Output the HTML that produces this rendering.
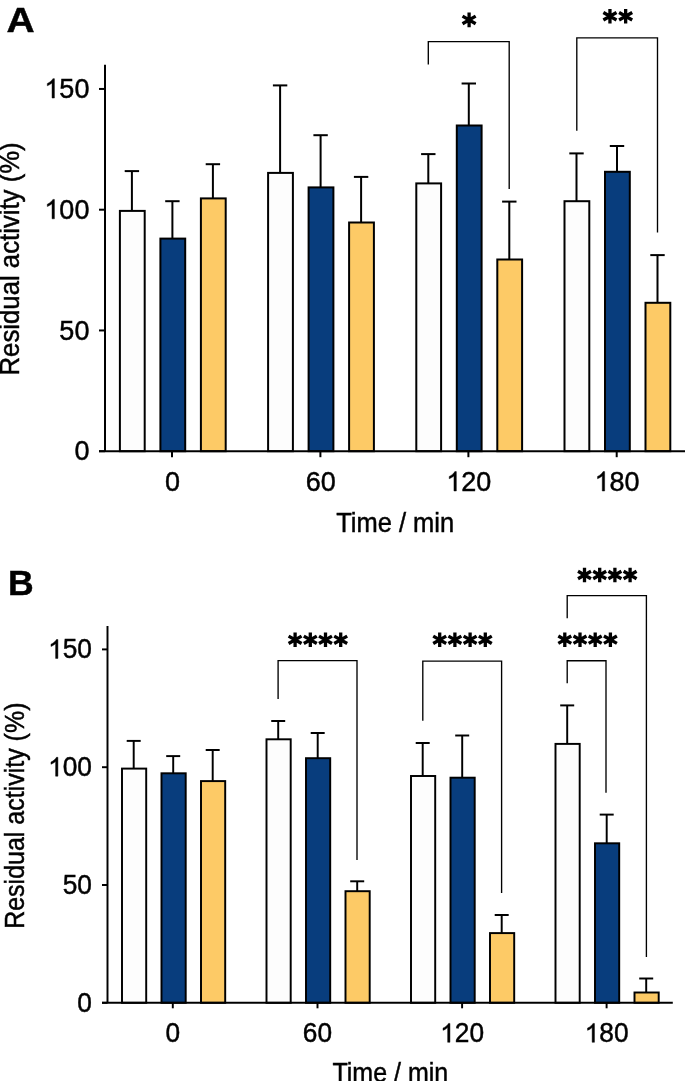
<!DOCTYPE html>
<html><head><meta charset="utf-8"><style>
html,body{margin:0;padding:0;background:#fff;width:685px;height:1081px;}
svg{display:block;}
</style></head><body>
<svg width="685" height="1081" viewBox="0 0 685 1081" font-family='"Liberation Sans", sans-serif'>
<rect width="685" height="1081" fill="#fff"/>
<line x1="131.90" y1="210.90" x2="131.90" y2="171.10" stroke="#000" stroke-width="2"/>
<line x1="124.70" y1="171.10" x2="139.10" y2="171.10" stroke="#000" stroke-width="2"/>
<rect x="119.90" y="210.90" width="24.80" height="240.30" fill="#fdfdfd" stroke="#000" stroke-width="2"/>
<line x1="172.40" y1="238.60" x2="172.40" y2="201.20" stroke="#000" stroke-width="2"/>
<line x1="165.20" y1="201.20" x2="179.60" y2="201.20" stroke="#000" stroke-width="2"/>
<rect x="160.40" y="238.60" width="24.80" height="212.60" fill="#083d7d" stroke="#000" stroke-width="2"/>
<line x1="212.90" y1="198.40" x2="212.90" y2="164.20" stroke="#000" stroke-width="2"/>
<line x1="205.70" y1="164.20" x2="220.10" y2="164.20" stroke="#000" stroke-width="2"/>
<rect x="200.90" y="198.40" width="24.80" height="252.80" fill="#fdca66" stroke="#000" stroke-width="2"/>
<line x1="280.10" y1="172.90" x2="280.10" y2="85.40" stroke="#000" stroke-width="2"/>
<line x1="272.90" y1="85.40" x2="287.30" y2="85.40" stroke="#000" stroke-width="2"/>
<rect x="268.10" y="172.90" width="24.80" height="278.30" fill="#fdfdfd" stroke="#000" stroke-width="2"/>
<line x1="320.60" y1="187.40" x2="320.60" y2="135.20" stroke="#000" stroke-width="2"/>
<line x1="313.40" y1="135.20" x2="327.80" y2="135.20" stroke="#000" stroke-width="2"/>
<rect x="308.60" y="187.40" width="24.80" height="263.80" fill="#083d7d" stroke="#000" stroke-width="2"/>
<line x1="361.10" y1="222.50" x2="361.10" y2="176.90" stroke="#000" stroke-width="2"/>
<line x1="353.90" y1="176.90" x2="368.30" y2="176.90" stroke="#000" stroke-width="2"/>
<rect x="349.10" y="222.50" width="24.80" height="228.70" fill="#fdca66" stroke="#000" stroke-width="2"/>
<line x1="428.30" y1="183.40" x2="428.30" y2="154.10" stroke="#000" stroke-width="2"/>
<line x1="421.10" y1="154.10" x2="435.50" y2="154.10" stroke="#000" stroke-width="2"/>
<rect x="416.30" y="183.40" width="24.80" height="267.80" fill="#fdfdfd" stroke="#000" stroke-width="2"/>
<line x1="468.80" y1="125.50" x2="468.80" y2="83.50" stroke="#000" stroke-width="2"/>
<line x1="461.60" y1="83.50" x2="476.00" y2="83.50" stroke="#000" stroke-width="2"/>
<rect x="456.80" y="125.50" width="24.80" height="325.70" fill="#083d7d" stroke="#000" stroke-width="2"/>
<line x1="509.30" y1="259.50" x2="509.30" y2="201.60" stroke="#000" stroke-width="2"/>
<line x1="502.10" y1="201.60" x2="516.50" y2="201.60" stroke="#000" stroke-width="2"/>
<rect x="497.30" y="259.50" width="24.80" height="191.70" fill="#fdca66" stroke="#000" stroke-width="2"/>
<line x1="576.50" y1="201.20" x2="576.50" y2="153.40" stroke="#000" stroke-width="2"/>
<line x1="569.30" y1="153.40" x2="583.70" y2="153.40" stroke="#000" stroke-width="2"/>
<rect x="564.50" y="201.20" width="24.80" height="250.00" fill="#fdfdfd" stroke="#000" stroke-width="2"/>
<line x1="617.00" y1="171.80" x2="617.00" y2="146.00" stroke="#000" stroke-width="2"/>
<line x1="609.80" y1="146.00" x2="624.20" y2="146.00" stroke="#000" stroke-width="2"/>
<rect x="605.00" y="171.80" width="24.80" height="279.40" fill="#083d7d" stroke="#000" stroke-width="2"/>
<line x1="657.50" y1="302.80" x2="657.50" y2="255.10" stroke="#000" stroke-width="2"/>
<line x1="650.30" y1="255.10" x2="664.70" y2="255.10" stroke="#000" stroke-width="2"/>
<rect x="645.50" y="302.80" width="24.80" height="148.40" fill="#fdca66" stroke="#000" stroke-width="2"/>
<line x1="105.00" y1="64.80" x2="105.00" y2="451.20" stroke="#000" stroke-width="2"/>
<line x1="99.00" y1="451.20" x2="685.00" y2="451.20" stroke="#000" stroke-width="2"/>
<line x1="99.00" y1="451.20" x2="105.00" y2="451.20" stroke="#000" stroke-width="2"/>
<line x1="99.00" y1="330.45" x2="105.00" y2="330.45" stroke="#000" stroke-width="2"/>
<line x1="99.00" y1="209.70" x2="105.00" y2="209.70" stroke="#000" stroke-width="2"/>
<line x1="99.00" y1="88.95" x2="105.00" y2="88.95" stroke="#000" stroke-width="2"/>
<line x1="172.00" y1="451.20" x2="172.00" y2="457.20" stroke="#000" stroke-width="2"/>
<line x1="320.40" y1="451.20" x2="320.40" y2="457.20" stroke="#000" stroke-width="2"/>
<line x1="468.40" y1="451.20" x2="468.40" y2="457.20" stroke="#000" stroke-width="2"/>
<line x1="616.70" y1="451.20" x2="616.70" y2="457.20" stroke="#000" stroke-width="2"/>
<polyline points="428.30,64.50 428.30,41.60 509.20,41.60 509.20,188.90" fill="none" stroke="#000" stroke-width="1.35"/>
<path d="M469.10 27.20L469.10 12.60M462.53 23.70L475.67 16.10M462.53 16.10L475.67 23.70" stroke="#000" stroke-width="3.3" fill="none"/>
<polyline points="576.80,130.80 576.80,37.90 657.50,37.90 657.50,232.50" fill="none" stroke="#000" stroke-width="1.35"/>
<path d="M609.95 23.55L609.95 8.95M603.38 20.05L616.52 12.45M603.38 12.45L616.52 20.05" stroke="#000" stroke-width="3.3" fill="none"/><path d="M625.65 23.55L625.65 8.95M619.08 20.05L632.22 12.45M619.08 12.45L632.22 20.05" stroke="#000" stroke-width="3.3" fill="none"/>
<g opacity="0.999" stroke="#000" stroke-width="0.45"><text transform="translate(74.38,460.30) scale(1.0,1.045)" font-size="27">0</text>
<text transform="translate(59.37,339.55) scale(1.0,1.045)" font-size="27">5</text><text transform="translate(74.38,339.55) scale(1.0,1.045)" font-size="27">0</text>
<path transform="translate(44.35,218.80) scale(0.01318,-0.01318)" d="M763,0L583,0L583,1147Q518,1085 412.5,1023Q307,961 223,930L223,1104Q374,1175 487,1276Q600,1377 647,1472L763,1472Z" vector-effect="non-scaling-stroke"/><text transform="translate(59.37,218.80) scale(1.0,1.045)" font-size="27">0</text><text transform="translate(74.38,218.80) scale(1.0,1.045)" font-size="27">0</text>
<path transform="translate(44.35,98.05) scale(0.01318,-0.01318)" d="M763,0L583,0L583,1147Q518,1085 412.5,1023Q307,961 223,930L223,1104Q374,1175 487,1276Q600,1377 647,1472L763,1472Z" vector-effect="non-scaling-stroke"/><text transform="translate(59.37,98.05) scale(1.0,1.045)" font-size="27">5</text><text transform="translate(74.38,98.05) scale(1.0,1.045)" font-size="27">0</text>
<text transform="translate(164.89,491.00) scale(1.0,1.045)" font-size="27">0</text>
<text transform="translate(305.78,491.00) scale(1.0,1.045)" font-size="27">6</text><text transform="translate(320.80,491.00) scale(1.0,1.045)" font-size="27">0</text>
<path transform="translate(446.28,491.00) scale(0.01318,-0.01318)" d="M763,0L583,0L583,1147Q518,1085 412.5,1023Q307,961 223,930L223,1104Q374,1175 487,1276Q600,1377 647,1472L763,1472Z" vector-effect="non-scaling-stroke"/><text transform="translate(461.29,491.00) scale(1.0,1.045)" font-size="27">2</text><text transform="translate(476.31,491.00) scale(1.0,1.045)" font-size="27">0</text>
<path transform="translate(594.58,491.00) scale(0.01318,-0.01318)" d="M763,0L583,0L583,1147Q518,1085 412.5,1023Q307,961 223,930L223,1104Q374,1175 487,1276Q600,1377 647,1472L763,1472Z" vector-effect="non-scaling-stroke"/><text transform="translate(609.59,491.00) scale(1.0,1.045)" font-size="27">8</text><text transform="translate(624.61,491.00) scale(1.0,1.045)" font-size="27">0</text>
<text transform="translate(395.10,532.10) scale(1.0,1.08)" text-anchor="middle" font-size="25.5">Time / min</text>
<text transform="translate(19.30,258.90) rotate(-90) scale(1.0,1.07)" text-anchor="middle" font-size="25.75">Residual activity (%)</text>
<text transform="translate(6.60,31.70) scale(1.12,1)" font-size="34.8" font-weight="bold">A</text></g>
<line x1="133.70" y1="768.60" x2="133.70" y2="740.90" stroke="#000" stroke-width="1.95"/>
<line x1="126.70" y1="740.90" x2="140.70" y2="740.90" stroke="#000" stroke-width="1.95"/>
<rect x="122.00" y="768.60" width="24.20" height="234.20" fill="#fdfdfd" stroke="#000" stroke-width="1.95"/>
<line x1="173.20" y1="773.30" x2="173.20" y2="756.10" stroke="#000" stroke-width="1.95"/>
<line x1="166.20" y1="756.10" x2="180.20" y2="756.10" stroke="#000" stroke-width="1.95"/>
<rect x="161.50" y="773.30" width="24.20" height="229.50" fill="#083d7d" stroke="#000" stroke-width="1.95"/>
<line x1="212.70" y1="781.10" x2="212.70" y2="750.00" stroke="#000" stroke-width="1.95"/>
<line x1="205.70" y1="750.00" x2="219.70" y2="750.00" stroke="#000" stroke-width="1.95"/>
<rect x="201.00" y="781.10" width="24.20" height="221.70" fill="#fdca66" stroke="#000" stroke-width="1.95"/>
<line x1="278.20" y1="739.30" x2="278.20" y2="721.00" stroke="#000" stroke-width="1.95"/>
<line x1="271.20" y1="721.00" x2="285.20" y2="721.00" stroke="#000" stroke-width="1.95"/>
<rect x="266.50" y="739.30" width="24.20" height="263.50" fill="#fdfdfd" stroke="#000" stroke-width="1.95"/>
<line x1="317.70" y1="758.20" x2="317.70" y2="733.00" stroke="#000" stroke-width="1.95"/>
<line x1="310.70" y1="733.00" x2="324.70" y2="733.00" stroke="#000" stroke-width="1.95"/>
<rect x="306.00" y="758.20" width="24.20" height="244.60" fill="#083d7d" stroke="#000" stroke-width="1.95"/>
<line x1="357.20" y1="891.20" x2="357.20" y2="881.30" stroke="#000" stroke-width="1.95"/>
<line x1="350.20" y1="881.30" x2="364.20" y2="881.30" stroke="#000" stroke-width="1.95"/>
<rect x="345.50" y="891.20" width="24.20" height="111.60" fill="#fdca66" stroke="#000" stroke-width="1.95"/>
<line x1="422.70" y1="776.00" x2="422.70" y2="743.00" stroke="#000" stroke-width="1.95"/>
<line x1="415.70" y1="743.00" x2="429.70" y2="743.00" stroke="#000" stroke-width="1.95"/>
<rect x="411.00" y="776.00" width="24.20" height="226.80" fill="#fdfdfd" stroke="#000" stroke-width="1.95"/>
<line x1="462.20" y1="777.70" x2="462.20" y2="735.50" stroke="#000" stroke-width="1.95"/>
<line x1="455.20" y1="735.50" x2="469.20" y2="735.50" stroke="#000" stroke-width="1.95"/>
<rect x="450.50" y="777.70" width="24.20" height="225.10" fill="#083d7d" stroke="#000" stroke-width="1.95"/>
<line x1="501.70" y1="933.10" x2="501.70" y2="915.00" stroke="#000" stroke-width="1.95"/>
<line x1="494.70" y1="915.00" x2="508.70" y2="915.00" stroke="#000" stroke-width="1.95"/>
<rect x="490.00" y="933.10" width="24.20" height="69.70" fill="#fdca66" stroke="#000" stroke-width="1.95"/>
<line x1="567.20" y1="743.90" x2="567.20" y2="705.40" stroke="#000" stroke-width="1.95"/>
<line x1="560.20" y1="705.40" x2="574.20" y2="705.40" stroke="#000" stroke-width="1.95"/>
<rect x="555.50" y="743.90" width="24.20" height="258.90" fill="#fdfdfd" stroke="#000" stroke-width="1.95"/>
<line x1="606.70" y1="843.30" x2="606.70" y2="814.60" stroke="#000" stroke-width="1.95"/>
<line x1="599.70" y1="814.60" x2="613.70" y2="814.60" stroke="#000" stroke-width="1.95"/>
<rect x="595.00" y="843.30" width="24.20" height="159.50" fill="#083d7d" stroke="#000" stroke-width="1.95"/>
<line x1="646.20" y1="992.50" x2="646.20" y2="978.50" stroke="#000" stroke-width="1.95"/>
<line x1="639.20" y1="978.50" x2="653.20" y2="978.50" stroke="#000" stroke-width="1.95"/>
<rect x="634.50" y="992.50" width="24.20" height="10.30" fill="#fdca66" stroke="#000" stroke-width="1.95"/>
<line x1="107.50" y1="626.00" x2="107.50" y2="1002.80" stroke="#000" stroke-width="1.95"/>
<line x1="102.00" y1="1002.80" x2="672.80" y2="1002.80" stroke="#000" stroke-width="1.95"/>
<line x1="102.00" y1="1002.80" x2="107.50" y2="1002.80" stroke="#000" stroke-width="1.95"/>
<line x1="102.00" y1="885.00" x2="107.50" y2="885.00" stroke="#000" stroke-width="1.95"/>
<line x1="102.00" y1="767.20" x2="107.50" y2="767.20" stroke="#000" stroke-width="1.95"/>
<line x1="102.00" y1="649.40" x2="107.50" y2="649.40" stroke="#000" stroke-width="1.95"/>
<line x1="172.80" y1="1002.80" x2="172.80" y2="1008.30" stroke="#000" stroke-width="1.95"/>
<line x1="317.50" y1="1002.80" x2="317.50" y2="1008.30" stroke="#000" stroke-width="1.95"/>
<line x1="462.10" y1="1002.80" x2="462.10" y2="1008.30" stroke="#000" stroke-width="1.95"/>
<line x1="606.60" y1="1002.80" x2="606.60" y2="1008.30" stroke="#000" stroke-width="1.95"/>
<polyline points="278.10,699.00 278.10,660.60 357.00,660.60 357.00,860.00" fill="none" stroke="#000" stroke-width="1.35"/>
<path d="M295.10 647.00L295.10 632.60M288.62 643.54L301.58 636.06M288.62 636.06L301.58 643.54" stroke="#000" stroke-width="3.3" fill="none"/><path d="M310.30 647.00L310.30 632.60M303.82 643.54L316.78 636.06M303.82 636.06L316.78 643.54" stroke="#000" stroke-width="3.3" fill="none"/><path d="M325.50 647.00L325.50 632.60M319.02 643.54L331.98 636.06M319.02 636.06L331.98 643.54" stroke="#000" stroke-width="3.3" fill="none"/><path d="M340.70 647.00L340.70 632.60M334.22 643.54L347.18 636.06M334.22 636.06L347.18 643.54" stroke="#000" stroke-width="3.3" fill="none"/>
<polyline points="422.80,720.80 422.80,661.10 501.60,661.10 501.60,893.10" fill="none" stroke="#000" stroke-width="1.35"/>
<path d="M439.70 647.00L439.70 632.60M433.22 643.54L446.18 636.06M433.22 636.06L446.18 643.54" stroke="#000" stroke-width="3.3" fill="none"/><path d="M454.90 647.00L454.90 632.60M448.42 643.54L461.38 636.06M448.42 636.06L461.38 643.54" stroke="#000" stroke-width="3.3" fill="none"/><path d="M470.10 647.00L470.10 632.60M463.62 643.54L476.58 636.06M463.62 636.06L476.58 643.54" stroke="#000" stroke-width="3.3" fill="none"/><path d="M485.30 647.00L485.30 632.60M478.82 643.54L491.78 636.06M478.82 636.06L491.78 643.54" stroke="#000" stroke-width="3.3" fill="none"/>
<polyline points="567.20,683.30 567.20,660.70 606.00,660.70 606.00,792.80" fill="none" stroke="#000" stroke-width="1.35"/>
<path d="M564.80 646.90L564.80 632.50M558.32 643.44L571.28 635.96M558.32 635.96L571.28 643.44" stroke="#000" stroke-width="3.3" fill="none"/><path d="M580.00 646.90L580.00 632.50M573.52 643.44L586.48 635.96M573.52 635.96L586.48 643.44" stroke="#000" stroke-width="3.3" fill="none"/><path d="M595.20 646.90L595.20 632.50M588.72 643.44L601.68 635.96M588.72 635.96L601.68 643.44" stroke="#000" stroke-width="3.3" fill="none"/><path d="M610.40 646.90L610.40 632.50M603.92 643.44L616.88 635.96M603.92 635.96L616.88 643.44" stroke="#000" stroke-width="3.3" fill="none"/>
<polyline points="567.20,618.20 567.20,595.60 646.40,595.60 646.40,957.10" fill="none" stroke="#000" stroke-width="1.35"/>
<path d="M584.50 582.20L584.50 567.80M578.02 578.74L590.98 571.26M578.02 571.26L590.98 578.74" stroke="#000" stroke-width="3.3" fill="none"/><path d="M599.70 582.20L599.70 567.80M593.22 578.74L606.18 571.26M593.22 571.26L606.18 578.74" stroke="#000" stroke-width="3.3" fill="none"/><path d="M614.90 582.20L614.90 567.80M608.42 578.74L621.38 571.26M608.42 571.26L621.38 578.74" stroke="#000" stroke-width="3.3" fill="none"/><path d="M630.10 582.20L630.10 567.80M623.62 578.74L636.58 571.26M623.62 571.26L636.58 578.74" stroke="#000" stroke-width="3.3" fill="none"/>
<g opacity="0.999" stroke="#000" stroke-width="0.45"><text transform="translate(77.37,1011.80) scale(1.0,1.045)" font-size="26.3">0</text>
<text transform="translate(62.75,894.00) scale(1.0,1.045)" font-size="26.3">5</text><text transform="translate(77.37,894.00) scale(1.0,1.045)" font-size="26.3">0</text>
<path transform="translate(48.12,776.20) scale(0.01284,-0.01284)" d="M763,0L583,0L583,1147Q518,1085 412.5,1023Q307,961 223,930L223,1104Q374,1175 487,1276Q600,1377 647,1472L763,1472Z" vector-effect="non-scaling-stroke"/><text transform="translate(62.75,776.20) scale(1.0,1.045)" font-size="26.3">0</text><text transform="translate(77.37,776.20) scale(1.0,1.045)" font-size="26.3">0</text>
<path transform="translate(48.12,658.40) scale(0.01284,-0.01284)" d="M763,0L583,0L583,1147Q518,1085 412.5,1023Q307,961 223,930L223,1104Q374,1175 487,1276Q600,1377 647,1472L763,1472Z" vector-effect="non-scaling-stroke"/><text transform="translate(62.75,658.40) scale(1.0,1.045)" font-size="26.3">5</text><text transform="translate(77.37,658.40) scale(1.0,1.045)" font-size="26.3">0</text>
<text transform="translate(165.49,1042.30) scale(1.0,1.045)" font-size="26.3">0</text>
<text transform="translate(302.87,1042.30) scale(1.0,1.045)" font-size="26.3">6</text><text transform="translate(317.50,1042.30) scale(1.0,1.045)" font-size="26.3">0</text>
<path transform="translate(440.16,1042.30) scale(0.01284,-0.01284)" d="M763,0L583,0L583,1147Q518,1085 412.5,1023Q307,961 223,930L223,1104Q374,1175 487,1276Q600,1377 647,1472L763,1472Z" vector-effect="non-scaling-stroke"/><text transform="translate(454.79,1042.30) scale(1.0,1.045)" font-size="26.3">2</text><text transform="translate(469.41,1042.30) scale(1.0,1.045)" font-size="26.3">0</text>
<path transform="translate(584.66,1042.30) scale(0.01284,-0.01284)" d="M763,0L583,0L583,1147Q518,1085 412.5,1023Q307,961 223,930L223,1104Q374,1175 487,1276Q600,1377 647,1472L763,1472Z" vector-effect="non-scaling-stroke"/><text transform="translate(599.29,1042.30) scale(1.0,1.045)" font-size="26.3">8</text><text transform="translate(613.91,1042.30) scale(1.0,1.045)" font-size="26.3">0</text>
<text transform="translate(390.30,1081.90) scale(1.0,1.08)" text-anchor="middle" font-size="25.0">Time / min</text>
<text transform="translate(23.90,815.70) rotate(-90) scale(1.0,1.08)" text-anchor="middle" font-size="25.0">Residual activity (%)</text>
<text transform="translate(7.90,595.30) scale(1.0,1)" font-size="35.6" font-weight="bold">B</text></g>
</svg>
</body></html>
